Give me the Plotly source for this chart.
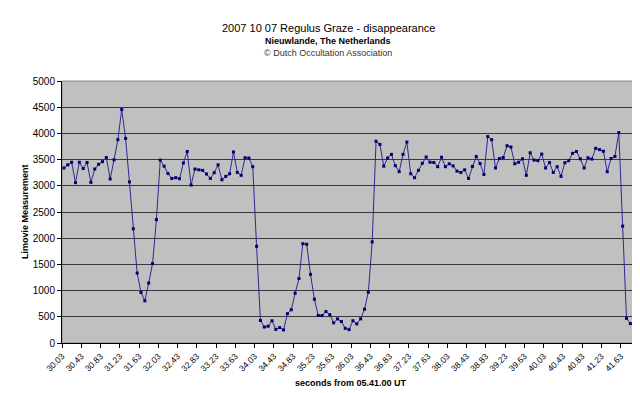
import plotly.graph_objects as go

# ---- data ----
start_time = 30.03
step = 0.08
values = [
    3340, 3400, 3450, 3060, 3450, 3330, 3445, 3065, 3320, 3410,
    3460, 3540, 3130, 3495, 3880, 4455, 3905, 3075, 2180, 1335,
    965, 805, 1145, 1515, 2355, 3490, 3375, 3235, 3140, 3155,
    3135, 3435, 3655, 3015, 3320, 3305, 3295, 3225, 3140, 3250,
    3400, 3115, 3180, 3230, 3645, 3255, 3200, 3535, 3530, 3365,
    1845, 430, 305, 320, 425, 260, 295, 250, 560, 635,
    950, 1230, 1895, 1885, 1310, 835, 525, 525, 600, 540,
    385, 460, 410, 280, 255, 425, 365, 460, 645, 970,
    1930, 3850, 3790, 3375, 3530, 3600, 3385, 3270, 3600, 3835,
    3230, 3155, 3295, 3430, 3550, 3450, 3445, 3365, 3545, 3365,
    3420, 3380, 3280, 3255, 3305, 3140, 3370, 3560, 3425, 3215,
    3940, 3880, 3340, 3520, 3540, 3765, 3740, 3420, 3450, 3515,
    3200, 3630, 3490, 3480, 3605, 3340, 3445, 3255, 3365, 3180,
    3440, 3480, 3620, 3655, 3515, 3340, 3535, 3510, 3715, 3690,
    3660, 3270, 3520, 3560, 4015, 2230, 470, 370, 405, 405,
]
times = [round(start_time + step * i, 2) for i in range(len(values))]
tick_labels = [
    "30.03", "30.43", "30.83", "31.23", "31.63", "32.03", "32.43", "32.83",
    "33.23", "33.63", "34.03", "34.43", "34.83", "35.23", "35.63", "36.03",
    "36.43", "36.83", "37.23", "37.63", "38.03", "38.43", "38.83", "39.23",
    "39.63", "40.03", "40.43", "40.83", "41.23", "41.63",
]
y_ticks = list(range(0, 5001, 500))

title_text = "2007 10 07 Regulus Graze - disappearance"
subtitle_text = "Nieuwlande, The Netherlands"
credit_text = "© Dutch Occultation Association"
x_title = "seconds from 05.41.00 UT"
y_title = "Limovie Measurement"

FONT = "Liberation Sans, Arial, sans-serif"
half = step / 2
tick_pos = [round(t - half, 2) for t in times[::5]]

L, R, T, B = 54, 632, 73, 335
W, H = R - L, B - T


def px_x(px):
    return (px - L) / W


def px_y(py):
    return (B - py) / H


fig = go.Figure()
fig.add_trace(go.Scatter(
    x=times, y=values, mode="lines+markers",
    line=dict(color="#2a2a92", width=1),
    marker=dict(symbol="square", size=3, color="#000070"),
    showlegend=False, hoverinfo="skip", cliponaxis=False,
))

fig.update_layout(
    width=640, height=393,
    margin=dict(l=L, r=640 - R, t=T, b=393 - B),
    paper_bgcolor="white",
    plot_bgcolor="#c0c0c0",
    font=dict(family=FONT, size=10, color="black"),
    xaxis=dict(
        range=[times[0] - half, times[-1] + half],
        tickmode="array", tickvals=tick_pos, ticktext=tick_labels,
        tickangle=-45, tickfont=dict(size=8.5),
        ticks="outside", ticklen=4, tickcolor="black",
        showline=True, linecolor="black", linewidth=1,
        showgrid=False, zeroline=False,
    ),
    yaxis=dict(
        range=[0, 5000], tickmode="array", tickvals=y_ticks,
        ticks="outside", ticklen=4, tickcolor="black",
        tickfont=dict(size=10),
        showline=True, linecolor="black", linewidth=1,
        showgrid=True, gridcolor="#3a3a3a", gridwidth=1,
        zeroline=False,
    ),
    shapes=[dict(type="rect", xref="paper", yref="paper", x0=0, x1=1, y0=0, y1=1,
                 line=dict(color="#8c8c8c", width=1), layer="between")],
    annotations=[
        dict(text=title_text, xref="paper", yref="paper", x=px_x(320), y=px_y(20),
             showarrow=False, font=dict(size=11, color="black"), xanchor="center", yanchor="middle"),
        dict(text="<b>" + subtitle_text + "</b>", xref="paper", yref="paper", x=px_x(320), y=px_y(33),
             showarrow=False, font=dict(size=9, color="black"), xanchor="center", yanchor="middle"),
        dict(text=credit_text, xref="paper", yref="paper", x=px_x(320), y=px_y(45),
             showarrow=False, font=dict(size=9, color="#333333"), xanchor="center", yanchor="middle"),
        dict(text="<b>" + x_title + "</b>", xref="paper", yref="paper", x=0.5, y=px_y(375),
             showarrow=False, font=dict(size=9, color="black"), xanchor="center", yanchor="middle"),
        dict(text="<b>" + y_title + "</b>", xref="paper", yref="paper", x=px_x(17), y=0.5,
             showarrow=False, textangle=-90, font=dict(size=9, color="black"),
             xanchor="center", yanchor="middle"),
    ],
)

fig.write_html("out.html")
